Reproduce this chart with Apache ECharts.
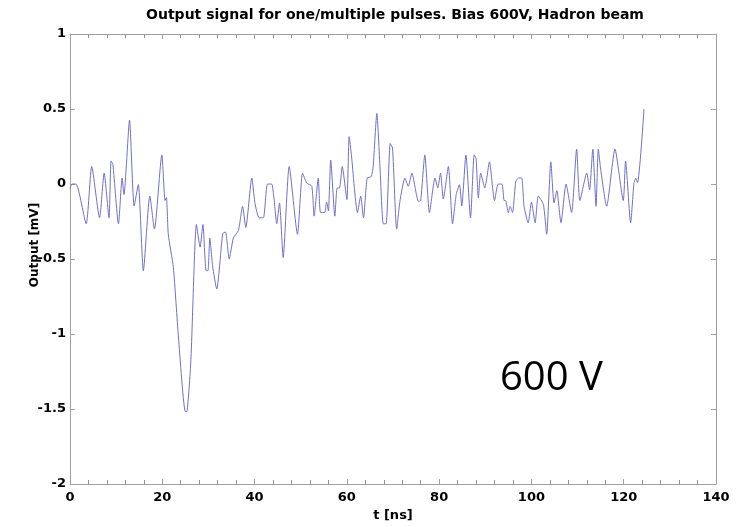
<!DOCTYPE html>
<html>
<head>
<meta charset="utf-8">
<script src="https://cdn.jsdelivr.net/npm/echarts@6/dist/echarts.min.js"></script>
<style>
html,body{margin:0;padding:0;background:#fff;}
#chart{width:736px;height:527px;}
</style>
</head>
<body>
<div id="chart"></div>
<script>
// time axis values (ns)
const tValues = [
  0.0, 0.4, 1.3, 3.5, 4.7, 6.4, 7.4, 8.45, 8.9, 9.3, 10.5, 11.3, 11.7, 12.9, 13.9, 14.8,
  15.9, 17.3, 18.3, 19.9, 20.6, 20.9, 21.3, 22.4, 23.5, 25.0, 25.3, 26.2, 27.4, 28.2, 28.8,
  29.5, 29.9, 30.3, 30.9, 31.8, 33.1, 33.7, 34.5, 35.4, 36.5, 37.4, 38.1, 39.4, 40.1, 41.0,
  41.9, 42.8, 43.7, 44.2, 44.8, 45.4, 46.2, 47.5, 49.3, 50.4, 51.3, 52.4, 52.9, 53.8, 54.3,
  55.2, 55.6, 56.0, 56.5, 57.4, 57.9, 58.4, 59.0, 60.0, 60.5, 61.0, 62.3, 63.0, 63.6, 64.4,
  65.3, 65.7, 66.5, 67.2, 67.9, 68.5, 69.4, 69.9, 70.8, 71.5, 72.6, 73.3, 74.1, 75.5, 76.0,
  76.9, 77.9, 79.1, 79.7, 80.3, 80.9, 82.0, 82.9, 83.7, 84.4, 84.9, 85.8, 86.8, 87.6, 88.0,
  88.5, 89.0, 89.9, 90.9, 92.0, 92.8, 93.6, 94.1, 94.4, 95.0, 95.4, 95.9, 96.6, 97.2, 97.9,
  98.4, 99.3, 100.0, 100.8, 101.5, 102.6, 103.3, 104.2, 104.9, 105.5, 106.4, 107.5, 108.7,
  109.8, 110.5, 112.0, 112.6, 113.3, 114.0, 114.5, 115.0, 116.3, 118.1, 119.9, 120.4, 121.5,
  122.2, 122.6, 123.0, 124.4
];
// output values (mV)
const outputValues = [
  -0.03, 0.0, 0.0, -0.265, 0.117, -0.225, 0.073, -0.225, 0.154, 0.13, -0.265, 0.04, -0.07, 0.426, -0.146, -0.004,
  -0.578, -0.08, -0.30, 0.194, -0.11, -0.09, -0.335, -0.556, -1.02, -1.517, -1.517, -1.17, -0.27, -0.42, -0.27,
  -0.577, -0.577, -0.36, -0.545, -0.70, -0.33, -0.32, -0.50, -0.36, -0.31, -0.148, -0.29, 0.04, -0.13, -0.225,
  -0.225, 0.0, 0.0, -0.093, -0.265, -0.126, -0.49, 0.117, -0.335, 0.073, 0.007, -0.015, -0.214, 0.04, -0.19,
  -0.19, -0.12, -0.18, 0.16, -0.214, -0.026, -0.026, 0.117, -0.104, 0.316, 0.19, -0.19, -0.08, -0.225, 0.04,
  0.05, 0.117, 0.47, 0.1, -0.265, -0.265, 0.27, 0.24, -0.30, -0.115, 0.04, -0.015, 0.073, -0.115, -0.11,
  0.194, -0.19, 0.04, -0.026, 0.073, -0.1, 0.117, -0.265, -0.07, -0.004, -0.146, 0.194, -0.225, 0.194, 0.17,
  -0.093, 0.073, -0.026, 0.148, -0.11, 0.0, 0.0, -0.11, -0.11, -0.19, -0.15, -0.19, 0.015, 0.04, 0.04,
  -0.15, -0.258, -0.12, -0.258, -0.08, -0.137, -0.335, 0.148, -0.126, -0.044, -0.258, 0.0, -0.19,
  0.232, -0.11, 0.073, -0.04, 0.232, -0.148, 0.232, 0.1, -0.148, 0.232, -0.11, 0.154, -0.258,
  0.0, 0.04, 0.01, 0.50
];
const titleText = 'Output signal for one/multiple pulses. Bias 600V, Hadron beam';
const xAxisName = 't [ns]';
const yAxisName = 'Output [mV]';
const annotationText = '600 V';

const seriesData = tValues.map((t, i) => [t, outputValues[i]]);

const axisGray = '#a0a0a0';
const labelFont = {color: '#000', fontFamily: 'DejaVu Sans', fontWeight: 'bold', fontSize: 13};

function xAx(pos, withLabels) {
  return {
    type: 'value', position: pos, min: 0, max: 140, interval: 20,
    axisLine: {show: true, onZero: false, lineStyle: {color: axisGray, width: 1}},
    axisTick: {show: true, inside: true, length: 5, lineStyle: {color: axisGray}},
    minorTick: {show: true, splitNumber: 5, length: 4, lineStyle: {color: '#909090', width: 1}},
    splitLine: {show: false},
    axisLabel: withLabels ? Object.assign({margin: 7}, labelFont) : {show: false}
  };
}

const xAxes = [xAx('bottom', true), xAx('top', false)];
xAxes[0].name = xAxisName;
xAxes[0].nameLocation = 'middle';
xAxes[0].nameGap = 24;
xAxes[0].nameTextStyle = {color: '#000', fontFamily: 'DejaVu Sans', fontWeight: 'bold', fontSize: 13};

const chart = echarts.init(document.getElementById('chart'), null, {renderer: 'canvas'});
chart.setOption({
  backgroundColor: '#fff',
  animation: false,
  title: {
    text: titleText,
    left: 390, top: 3, textAlign: 'center',
    textStyle: {color: '#000', fontFamily: 'DejaVu Sans', fontWeight: 'bold', fontSize: 14}
  },
  grid: {left: 70, right: 20, top: 34, bottom: 40, containLabel: false},
  xAxis: xAxes,
  yAxis: [{
    type: 'value', position: 'left', min: -2, max: 1, interval: 0.5,
    axisLine: {show: true, onZero: false, lineStyle: {color: axisGray, width: 1}},
    axisTick: {show: true, inside: true, length: 5, lineStyle: {color: axisGray}},
    splitLine: {show: false},
    axisLabel: Object.assign({margin: 4}, labelFont)
  }, {
    type: 'value', position: 'right', min: -2, max: 1, interval: 0.5,
    axisLine: {show: true, onZero: false, lineStyle: {color: axisGray, width: 1}},
    axisTick: {show: true, inside: true, length: 5, lineStyle: {color: axisGray}},
    splitLine: {show: false},
    axisLabel: {show: false}
  }],
  graphic: [{
    type: 'text', x: 35, y: 245, rotation: Math.PI / 2,
    style: {text: yAxisName, fill: '#000', font: 'bold 12px "DejaVu Sans"', textAlign: 'center', textVerticalAlign: 'middle'}
  }, {
    type: 'text', x: 500, y: 379,
    style: {text: annotationText, fill: '#000', font: '40px "Open Sans"', textAlign: 'left', textVerticalAlign: 'middle'}
  }],
  series: [{
    type: 'line', xAxisIndex: 0, yAxisIndex: 0,
    data: seriesData, showSymbol: false, symbol: 'none',
    smooth: 0.2,
    lineStyle: {color: '#7070cc', width: 1},
    silent: true
  }]
});
</script>
</body>
</html>
